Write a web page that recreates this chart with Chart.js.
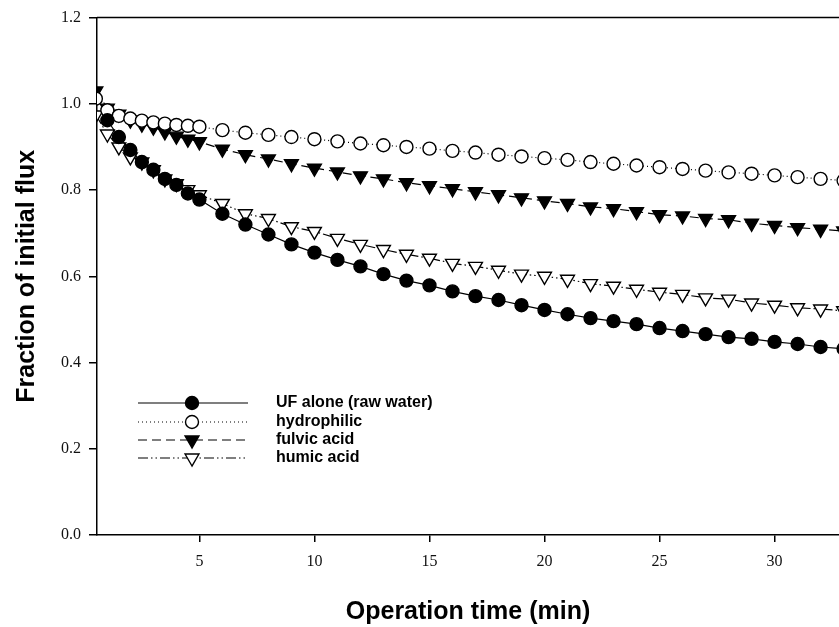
<!DOCTYPE html>
<html>
<head>
<meta charset="utf-8">
<script src="https://cdn.jsdelivr.net/npm/chart.js@4.4.1/dist/chart.umd.min.js"></script>
<style>
  html, body { margin: 0; padding: 0; background: #fff; overflow: hidden; }
  #wrap { width: 839px; height: 627px; }
</style>
</head>
<body>
<div id="wrap"><canvas id="flux"></canvas></div>
<script>
// operation time (min)
const times = [0.5, 1, 1.5, 2, 2.5, 3, 3.5, 4, 4.5, 5, 6, 7, 8, 9, 10, 11, 12, 13, 14, 15, 16, 17, 18, 19,
               20, 21, 22, 23, 24, 25, 26, 27, 28, 29, 30, 31, 32, 33];

// fraction of initial flux for each feed
const ufAlone = [null, 0.962, 0.923, 0.893, 0.865, 0.847, 0.826, 0.812, 0.792, 0.778, 0.745, 0.720, 0.697,
                 0.674, 0.655, 0.638, 0.623, 0.605, 0.590, 0.579, 0.565, 0.554, 0.545, 0.533, 0.522, 0.512,
                 0.503, 0.496, 0.489, 0.480, 0.473, 0.466, 0.459, 0.455, 0.448, 0.443, 0.436, 0.432];
const hydrophilic = [1.012, 0.985, 0.972, 0.966, 0.961, 0.957, 0.954, 0.951, 0.949, 0.947, 0.939, 0.933,
                     0.928, 0.923, 0.918, 0.913, 0.908, 0.904, 0.900, 0.896, 0.891, 0.887, 0.882, 0.878,
                     0.874, 0.870, 0.865, 0.861, 0.857, 0.853, 0.849, 0.845, 0.841, 0.838, 0.834, 0.830,
                     0.826, 0.822];
const fulvic = [1.030, 0.990, 0.976, 0.962, 0.953, 0.946, 0.935, 0.925, 0.918, 0.912, 0.895, 0.882, 0.872,
                0.861, 0.851, 0.842, 0.833, 0.826, 0.817, 0.810, 0.803, 0.796, 0.789, 0.782, 0.775, 0.769,
                0.761, 0.757, 0.750, 0.743, 0.740, 0.734, 0.731, 0.723, 0.718, 0.713, 0.709, 0.705];
const humic = [0.974, 0.930, 0.900, 0.877, 0.865, 0.847, 0.826, 0.815, 0.801, 0.789, 0.769, 0.745, 0.734,
               0.715, 0.704, 0.688, 0.674, 0.662, 0.651, 0.642, 0.630, 0.623, 0.614, 0.605, 0.600, 0.593,
               0.583, 0.577, 0.570, 0.563, 0.558, 0.550, 0.547, 0.538, 0.533, 0.527, 0.524, 0.520];

const xTicks = [5, 10, 15, 20, 25, 30];
const yTicks = [0, 0.2, 0.4, 0.6, 0.8, 1.0, 1.2];

const seriesNames = ['UF alone (raw water)', 'hydrophilic', 'fulvic acid', 'humic acid'];

function pts(vals) {
    return times.map((t, i) => ({ x: t, y: vals[i] }));
}

const common = {
    borderColor: '#000',
    borderWidth: 1.2,
    pointBorderColor: '#000',
    pointBorderWidth: 1.4,
    tension: 0,
    spanGaps: true
};

const datasets = [
    Object.assign({}, common, {
        label: seriesNames[0], data: pts(ufAlone),
        pointStyle: 'circle', pointRadius: 6.5, pointBackgroundColor: '#000',
        borderDash: []
    }),
    Object.assign({}, common, {
        label: seriesNames[1], data: pts(hydrophilic),
        pointStyle: 'circle', pointRadius: 6.5, pointBackgroundColor: '#fff',
        borderDash: [1, 3]
    }),
    Object.assign({}, common, {
        label: seriesNames[2], data: pts(fulvic),
        pointStyle: 'triangle', pointRotation: 180, pointRadius: 8, pointBackgroundColor: '#000',
        borderDash: [9, 5]
    }),
    Object.assign({}, common, {
        label: seriesNames[3], data: pts(humic),
        pointStyle: 'triangle', pointRotation: 180, pointRadius: 8, pointBackgroundColor: '#fff',
        borderDash: [10, 3, 1.5, 3, 1.5, 3]
    })
];

// top frame line + legend with long line samples
const decor = {
    id: 'decor',
    afterDraw(chart) {
        const ctx = chart.ctx;
        const a = chart.chartArea;
        ctx.save();
        ctx.strokeStyle = '#000';
        ctx.lineWidth = 1.5;
        ctx.beginPath();
        ctx.moveTo(a.left, a.top);
        ctx.lineTo(a.right, a.top);
        ctx.stroke();

        const rowY = [403, 422, 440, 458];
        chart.data.datasets.forEach((ds, i) => {
            const y = rowY[i];
            ctx.setLineDash(ds.borderDash);
            ctx.lineWidth = 1.2;
            ctx.strokeStyle = '#000';
            ctx.beginPath();
            ctx.moveTo(138, y);
            ctx.lineTo(248, y);
            ctx.stroke();
            ctx.setLineDash([]);
            ctx.fillStyle = ds.pointBackgroundColor;
            ctx.lineWidth = 1.4;
            Chart.helpers.drawPoint(ctx, {
                pointStyle: ds.pointStyle,
                rotation: ds.pointRotation || 0,
                radius: ds.pointRadius,
                borderWidth: 1.4
            }, 192, y);
            ctx.fillStyle = '#000';
            ctx.font = 'bold 16px "Liberation Sans", Arial, sans-serif';
            ctx.textBaseline = 'middle';
            ctx.fillText(ds.label, 276, y);
        });
        ctx.restore();
    }
};

new Chart(document.getElementById('flux'), {
    type: 'line',
    data: { datasets: datasets },
    plugins: [decor],
    options: {
        responsive: true,
        maintainAspectRatio: false,
        animation: false,
        layout: { autoPadding: false, padding: { top: 15, right: 0, left: 0, bottom: 0 } },
        plugins: {
            legend: { display: false },
            tooltip: { enabled: false }
        },
        scales: {
            x: {
                type: 'linear',
                min: 0.55,
                max: 32.8,
                afterFit(scale) { scale.height = 92; },
                afterBuildTicks(scale) { scale.ticks = xTicks.map(v => ({ value: v })); },
                border: { display: true, color: '#000', width: 1.5 },
                grid: { display: true, drawOnChartArea: false, drawTicks: true, tickLength: 7, color: '#000', lineWidth: 1.5 },
                ticks: {
                    padding: 10,
                    color: '#111',
                    font: { family: '"Liberation Serif", "Times New Roman", serif', size: 16 },
                    maxRotation: 0
                },
                title: {
                    display: true,
                    text: 'Operation time (min)',
                    color: '#000',
                    font: { family: '"Liberation Sans", Arial, sans-serif', size: 25, weight: 'bold' },
                    padding: { top: 4, bottom: 0 }
                }
            },
            y: {
                min: 0,
                max: 1.2,
                afterFit(scale) { scale.width = 97; },
                afterBuildTicks(scale) { scale.ticks = yTicks.map(v => ({ value: v })); },
                border: { display: true, color: '#000', width: 1.5 },
                grid: { display: true, drawOnChartArea: false, drawTicks: true, tickLength: 8, color: '#000', lineWidth: 1.5 },
                ticks: {
                    padding: 8,
                    color: '#111',
                    font: { family: '"Liberation Serif", "Times New Roman", serif', size: 16 },
                    callback: v => v.toFixed(1)
                },
                title: {
                    display: true,
                    text: 'Fraction of initial flux',
                    color: '#000',
                    font: { family: '"Liberation Sans", Arial, sans-serif', size: 25, weight: 'bold' },
                    padding: { top: 12, bottom: 0 }
                }
            }
        }
    }
});
</script>
</body>
</html>
